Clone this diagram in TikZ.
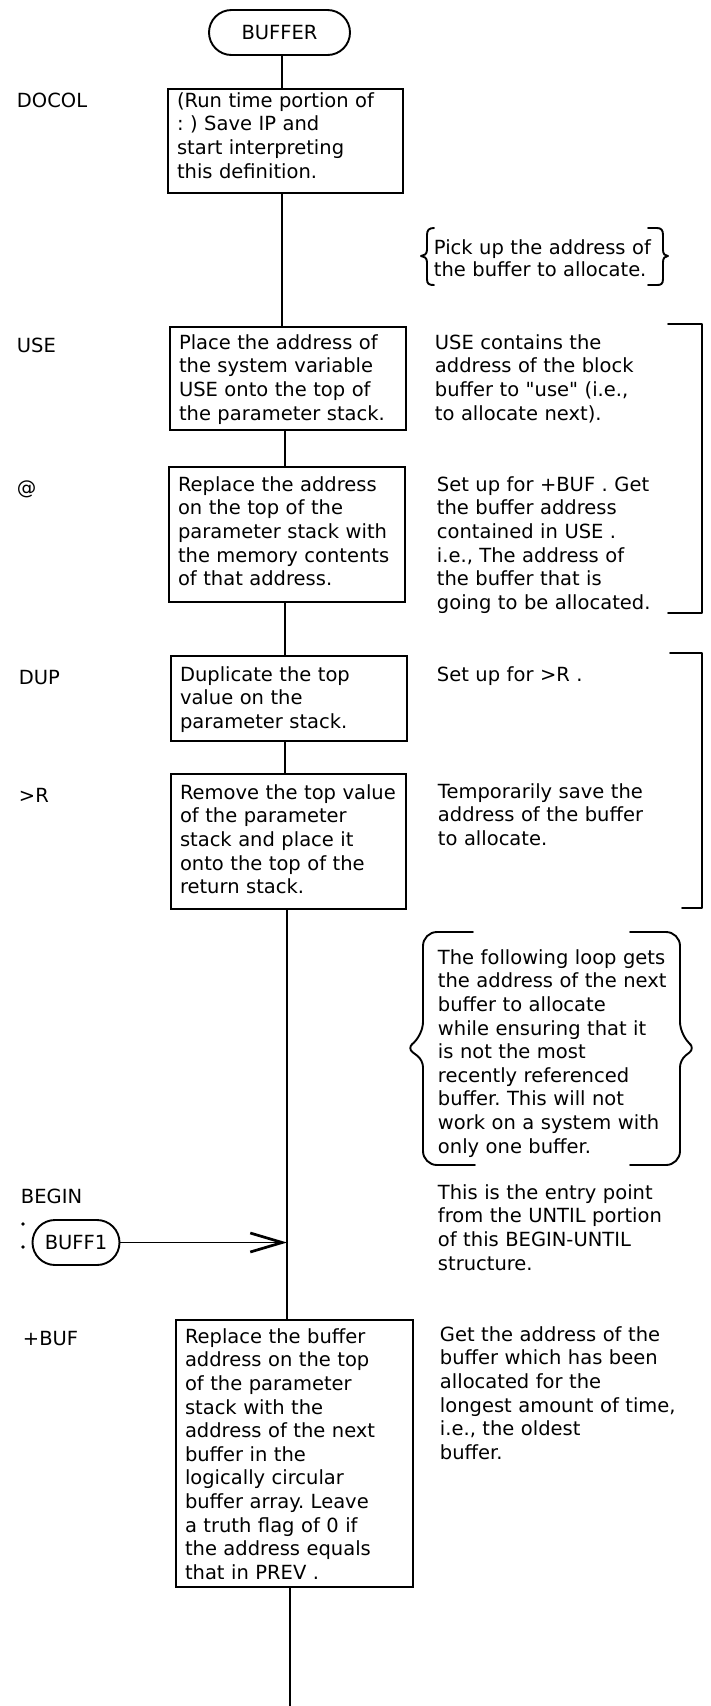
\documentclass[tikz,border=0pt]{standalone}
\usepackage{fontspec}
\setmainfont{DejaVu Sans}[Ligatures=TeXOff]
\usetikzlibrary{arrows.meta,shapes.misc}
\newcommand\bxtop[1]{\rule{0pt}{#1pt}}
\newcommand\bxbot[1]{\rule[-#1pt]{0pt}{#1pt}}
\frenchspacing
\begin{document}
\frenchspacing
\begin{tikzpicture}[x=1pt,y=-1pt,line width=1.9pt,
  font=\fontsize{19.5pt}{23.6pt}\selectfont\frenchspacing,
  stepbox/.style={draw,anchor=north west,align=left,inner xsep=9pt,inner ysep=0pt,outer sep=0pt},
  term/.style={draw,rounded rectangle,inner sep=0pt,outer sep=0pt,minimum height=45pt},
  lab/.style={anchor=base west,inner sep=0pt},
  cmt/.style={anchor=base west,align=left,text width=272pt,inner sep=0pt},
  brk/.style={line width=1.9pt,line cap=round,line join=round}]
\fill[white] (0,0) rectangle (711,1706);
\useasboundingbox (0,0) rectangle (711,1706);

% trunk x positions
\coordinate (tA) at (282,0);
\coordinate (tB) at (285,0);
\coordinate (tC) at (287,0);
\coordinate (tD) at (290,0);
\coordinate (bottom) at (290,1706);

% terminal
\node[term,minimum width=141pt] (buffer) at (279.5,32.5) {BUFFER};

% labels
\node[lab] (lDOCOL) at (16,107) {DOCOL};
\node[lab] (lUSE) at (16,352) {USE};
\node[lab] (lAT) at (16,494) {@};
\node[lab] (lDUP) at (18,684) {DUP};
\node[lab] (lTOR) at (18,802) {>R};
\node[lab] (lBEGIN) at (20,1203) {BEGIN};
\node[lab] (lPBUF) at (22,1345) {+BUF};

% boxes
\node[stepbox,text width=217pt] (docol) at (168,89)
  {\bxtop{18.3}(Run time portion of\\: ) Save IP and\\start interpreting\\this definition.\bxbot{14.9}};
\node[stepbox,text width=218pt] (use) at (170,327)
  {\bxtop{22.3}Place the address of\\the system variable\\USE onto the top of\\the parameter stack.\bxbot{9.9}};
\node[stepbox,text width=218pt] (at) at (169,467)
  {\bxtop{24.3}Replace the address\\on the top of the\\parameter stack with\\the memory contents\\of that address.\bxbot{16.3}};
\node[stepbox,text width=218pt] (dup) at (171,656)
  {\bxtop{25.3}Duplicate the top\\value on the\\parameter stack.\bxbot{12.5}};
\node[stepbox,text width=217pt] (tor) at (171,774)
  {\bxtop{25.3}Remove the top value\\of the parameter\\stack and place it\\onto the top of the\\return stack.\bxbot{15.3}};
\node[stepbox,text width=219pt] (pbuf) at (176,1320)
  {\bxtop{23.3}Replace the buffer\\address on the top\\of the parameter\\stack with the\\address of the next\\buffer in the\\logically circular\\buffer array. Leave\\a truth flag of 0 if\\the address equals\\that in PREV .\bxbot{7.7}};

% BUFF1 entry
\node[term,minimum width=87pt] (buff1) at (76,1242.5) {BUFF1};
\fill (23,1224) circle (1.9pt);
\fill (23,1247) circle (1.9pt);

% comments
\node[cmt,font=\fontsize{19.5pt}{22.5pt}\selectfont\frenchspacing] (cpick) at (433,254.3)
  {Pick up the address of\\the buffer to allocate.};
\node[cmt] (cuse) at (434,349.3)
  {USE contains the\\address of the block\\buffer to "use" (i.e.,\\to allocate next).};
\node[cmt] (cat) at (436,491.3)
  {Set up for +BUF . Get\\the buffer address\\contained in USE .\\i.e., The address of\\the buffer that is\\going to be allocated.};
\node[cmt] (cdup) at (436,681.3) {Set up for >R .};
\node[cmt] (ctor) at (437,798.3)
  {Temporarily save the\\address of the buffer\\to allocate.};
\node[cmt] (cloop) at (437,964.3)
  {The following loop gets\\the address of the next\\buffer to allocate\\while ensuring that it\\is not the most\\recently referenced\\buffer. This will not\\work on a system with\\only one buffer.};
\node[cmt] (centry) at (437,1199.3)
  {This is the entry point\\from the UNTIL portion\\of this BEGIN-UNTIL\\structure.};
\node[cmt] (cpbuf) at (439,1341.3)
  {Get the address of the\\buffer which has been\\allocated for the\\longest amount of time,\\i.e., the oldest\\buffer.};

% trunk connectors
\draw (buffer.south -| tA) -- (docol.north -| tA);
\draw (docol.south -| tA) -- (use.north -| tA);
\draw (use.south -| tB) -- (at.north -| tB);
\draw (at.south -| tB) -- (dup.north -| tB);
\draw (dup.south -| tB) -- (tor.north -| tB);
\draw (tor.south -| tC) -- (pbuf.north -| tC);
\coordinate (join) at (tC |- buff1.east);
\draw[-{Straight Barb[length=32pt,width=19pt,line width=2.7pt]}] (buff1.east) -- (join);
\draw (pbuf.south -| tD) -- (bottom);

% small brace around pick-up comment
\draw[brk] (434,228) .. controls (429,228) and (427,230) .. (427,235) -- (427,250)
  .. controls (427,254) and (424,256) .. (421,256)
  .. controls (424,256) and (427,258) .. (427,262) -- (427,279)
  .. controls (427,284) and (429,285) .. (434,285);
\draw[brk] (648,228) -- (657,228) .. controls (661,228) and (663,230) .. (663,235) -- (663,250)
  .. controls (663,254) and (665,256) .. (668,256)
  .. controls (665,256) and (663,258) .. (663,262) -- (663,279)
  .. controls (663,284) and (661,285) .. (657,285) -- (648,285);

% square brackets
\draw[brk] (668,324) -- (702,324) -- (702,613) -- (668,613);
\draw[brk] (670,653) -- (702,653) -- (702,908) -- (682,908);

% big brace
\draw[brk,rounded corners=14pt] (473,932) -- (423,932) -- (423,1036) [rounded corners=7pt] -- (407,1048) -- (423,1060) [rounded corners=14pt] -- (423,1165) -- (475,1165);
\draw[brk,rounded corners=14pt] (630,932) -- (680,932) -- (680,1036) [rounded corners=7pt] -- (695,1048) -- (680,1060) [rounded corners=14pt] -- (680,1165) -- (630,1165);
\end{tikzpicture}
\end{document}
